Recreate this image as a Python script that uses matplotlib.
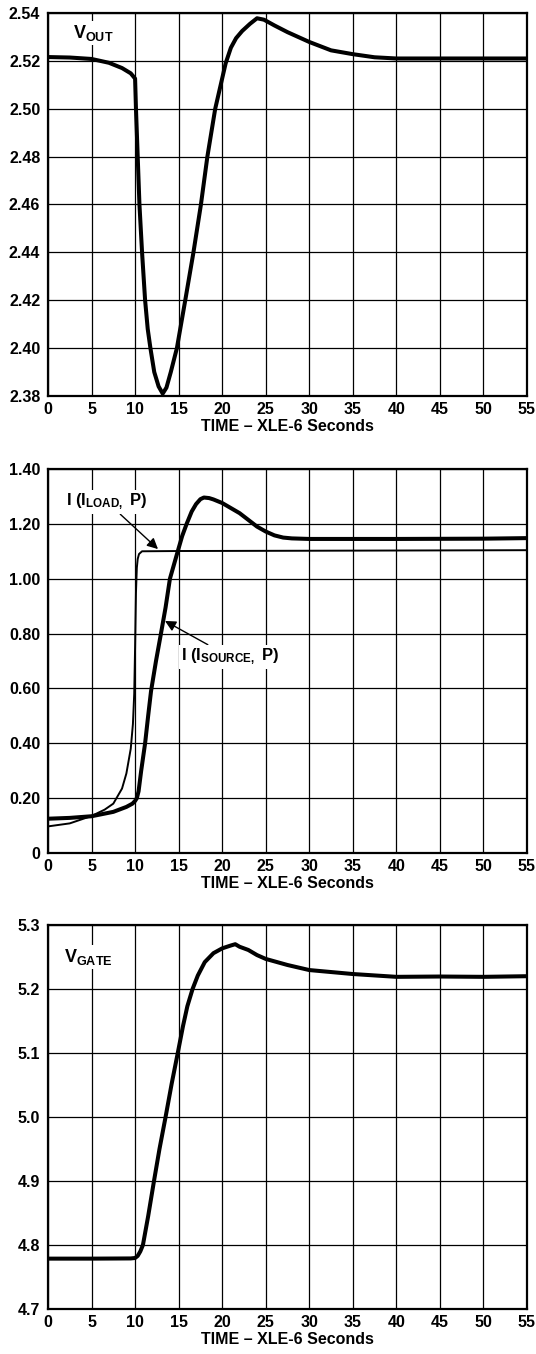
from matplotlib import pyplot as plt

plt.rcParams['font.family'] = ['Liberation Sans', 'DejaVu Sans']
plt.rcParams['font.weight'] = 'bold'
plt.rcParams['mathtext.fontset'] = 'custom'
plt.rcParams['mathtext.bf'] = 'Liberation Sans:bold'
plt.rcParams['mathtext.rm'] = 'Liberation Sans:bold'
plt.rcParams['mathtext.default'] = 'bf'

# time axis (x 1e-6 s)
x_ticks = [0, 5, 10, 15, 20, 25, 30, 35, 40, 45, 50, 55]
x_label = "TIME \u2013 XLE-6 Seconds"

# panel 1: V_OUT
vout_t = [0, 2.5, 5, 7, 8.5, 9.5, 10, 10.1, 10.3, 10.5, 10.8, 11.15, 11.45, 11.76, 12.2,
          12.7, 13.17, 13.6, 14.1, 14.8, 15.76, 16.7, 17.56, 18.3, 19.2, 20.4, 21.0, 21.6,
          22.3, 23.2, 24.0, 24.8, 26, 27.5, 30, 32.5, 35, 37.5, 40, 45, 50, 55]
vout_v = [2.5216, 2.5214, 2.5208, 2.5192, 2.5170, 2.5148, 2.5126, 2.5000, 2.4800, 2.4600,
          2.4400, 2.4200, 2.4080, 2.4000, 2.3900, 2.3840, 2.3810, 2.3835, 2.3900, 2.4000,
          2.4200, 2.4400, 2.4600, 2.4800, 2.5000, 2.5190, 2.5255, 2.5295, 2.5325, 2.5355,
          2.5378, 2.5372, 2.5348, 2.5320, 2.5279, 2.5244, 2.5228, 2.5215, 2.5210, 2.5210,
          2.5210, 2.5210]
vout_yticks = [2.38, 2.40, 2.42, 2.44, 2.46, 2.48, 2.50, 2.52, 2.54]
vout_ylabels = ["2.38", "2.40", "2.42", "2.44", "2.46", "2.48", "2.50", "2.52", "2.54"]

# panel 2: currents
isrc_t = [0, 2.5, 5, 7.5, 9, 9.7, 10, 10.2, 10.4, 10.7, 11.15, 11.5, 11.83, 12.4, 12.97,
          13.5, 14.0, 14.9, 15.4, 15.92, 16.5, 17.0, 17.5, 17.9, 18.5, 19, 20, 22, 24, 25,
          26, 27, 28, 30, 40, 50, 55]
isrc_v = [0.125, 0.128, 0.134, 0.150, 0.168, 0.180, 0.190, 0.200, 0.225, 0.300, 0.400,
          0.500, 0.590, 0.700, 0.800, 0.895, 1.000, 1.100, 1.155, 1.200, 1.245, 1.272,
          1.290, 1.296, 1.294, 1.289, 1.276, 1.239, 1.190, 1.172, 1.158, 1.150, 1.147,
          1.145, 1.145, 1.146, 1.148]
iload_t = [0, 2.5, 5, 6.5, 7.5, 8.5, 9, 9.5, 9.75, 9.9, 10.0, 10.1, 10.2, 10.3, 10.45,
           10.8, 15, 30, 55]
iload_v = [0.097, 0.108, 0.135, 0.158, 0.180, 0.235, 0.290, 0.380, 0.470, 0.580, 0.750,
           0.950, 1.040, 1.072, 1.090, 1.100, 1.101, 1.102, 1.104]
i_yticks = [0, 0.2, 0.4, 0.6, 0.8, 1.0, 1.2, 1.4]
i_ylabels = ["0", "0.20", "0.40", "0.60", "0.80", "1.00", "1.20", "1.40"]

# panel 3: V_GATE
vgate_t = [0, 5, 9.5, 10, 10.3, 10.6, 10.9, 11.5, 12.17, 12.8, 13.5, 14.2, 14.9, 15.5,
           16, 16.6, 17.2, 18, 19, 20, 21, 21.5, 22, 23, 24, 25, 27.5, 30, 35, 40, 45, 50, 55]
vgate_v = [4.7787, 4.7787, 4.7790, 4.7797, 4.7830, 4.7900, 4.8000, 4.8450, 4.9000, 4.9500,
           5.0000, 5.0520, 5.1000, 5.1420, 5.1730, 5.2000, 5.2210, 5.2420, 5.2560, 5.2635,
           5.2680, 5.2700, 5.2660, 5.2610, 5.2530, 5.2470, 5.2375, 5.2296, 5.2234, 5.2190,
           5.2195, 5.2190, 5.2200]
vg_yticks = [4.7, 4.8, 4.9, 5.0, 5.1, 5.2, 5.3]
vg_ylabels = ["4.7", "4.8", "4.9", "5.0", "5.1", "5.2", "5.3"]

W, H = 536, 1354
fig = plt.figure(figsize=(W / 100, H / 100), dpi=100)

def make_axes(top_px, bot_px):
    return fig.add_axes([48 / W, 1 - bot_px / H, 479 / W, (bot_px - top_px) / H])

def style_axis(ax, yticks, ylabels, ylim):
    ax.set_xlim(0, 55)
    ax.set_ylim(*ylim)
    ax.set_xticks(x_ticks)
    ax.set_xticklabels([str(v) for v in x_ticks], fontsize=11.5, fontweight='bold')
    ax.set_yticks(yticks)
    ax.set_yticklabels(ylabels, fontsize=11.5, fontweight='bold')
    ax.tick_params(length=0, pad=5.5)
    ax.tick_params(axis='x', pad=4.5)
    ax.grid(True, color='black', linewidth=0.9)
    ax.set_axisbelow(True)
    for sp in ax.spines.values():
        sp.set_linewidth(1.6)
    ax.set_xlabel(x_label, fontsize=11.5, fontweight='bold', labelpad=1.5)

box = dict(facecolor='white', edgecolor='none', pad=1.5)

ax1 = make_axes(13, 396)
ax1.plot(vout_t, vout_v, color='black', linewidth=2.9, solid_joinstyle='round')
style_axis(ax1, vout_yticks, vout_ylabels, (2.38, 2.54))
ax1.text(5.17, 2.5316, r"V$_{OUT}$", fontsize=13, ha='center', va='center', bbox=box)

ax2 = make_axes(469, 853)
ax2.plot(iload_t, iload_v, color='black', linewidth=1.4, solid_joinstyle='round')
ax2.plot(isrc_t, isrc_v, color='black', linewidth=2.9, solid_joinstyle='round')
style_axis(ax2, i_yticks, i_ylabels, (0, 1.4))
arrow = dict(arrowstyle='-|>', color='black', linewidth=1.0, mutation_scale=16,
             shrinkA=0, shrinkB=0)
ax2.annotate(r"I (I$_{LOAD,}$ P)", xy=(12.63, 1.108), xytext=(6.77, 1.28),
             fontsize=12, ha='center', va='center', bbox=box, arrowprops=arrow)
ax2.annotate(r"I (I$_{SOURCE,}$ P)", xy=(13.43, 0.846), xytext=(20.9, 0.7146),
             fontsize=12, ha='center', va='center', bbox=box, arrowprops=arrow)

ax3 = make_axes(925, 1309)
ax3.plot(vgate_t, vgate_v, color='black', linewidth=2.9, solid_joinstyle='round')
style_axis(ax3, vg_yticks, vg_ylabels, (4.7, 5.3))
ax3.text(4.59, 5.25, r"V$_{GATE}$", fontsize=13, ha='center', va='center', bbox=box)

plt.savefig("out.png", dpi=100)
